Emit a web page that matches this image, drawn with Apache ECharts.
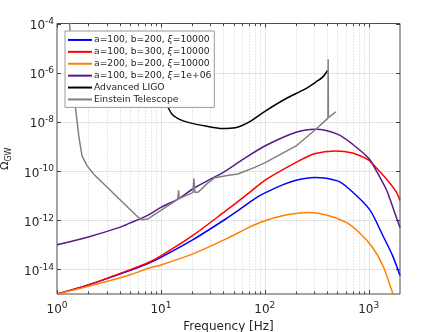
<!DOCTYPE html>
<html><head><meta charset="utf-8">
<script src="https://cdn.jsdelivr.net/npm/echarts@6/dist/echarts.min.js"></script>
<style>html,body{margin:0;padding:0;background:#fff}#c{width:443px;height:332px}</style>
</head><body><div id="c"></div>
<script>
const FONT = 'DejaVu Sans';
const TXT = '#262626';

// axis ticks
const xMajorTicks = [1, 10, 100, 1000];
const xMinorTicks = [2,3,4,5,6,7,8,9,20,30,40,50,60,70,80,90,200,300,400,500,600,700,800,900];
const yMajorTicks = [1e-14, 1e-12, 1e-10, 1e-8, 1e-6, 1e-4];
const xRange = [1, 2000];
const yRange = [1e-15, 1e-4];

const seriesNames = [
  'a=100, b=200, ξ=10000',
  'a=100, b=300, ξ=10000',
  'a=200, b=200, ξ=10000',
  'a=100, b=200, ξ=1e+06',
  'Advanced LIGO',
  'Einstein Telescope'
];

// values: frequency [Hz] and log10(Omega_GW)
const blueFreq = [1, 2, 5, 7.6, 10, 20, 42, 60, 79, 95, 150, 200, 300, 500, 650, 1013, 1370, 1700, 2000];
const blueLogOmega = [-15.0, -14.63, -14.05, -13.75, -13.51, -12.81, -11.95, -11.5, -11.14, -10.94, -10.55, -10.37, -10.26, -10.40, -10.73, -11.55, -12.63, -13.45, -14.25];

const redFreq = [1, 2, 5, 7.6, 10, 20, 42, 68, 100, 200, 300, 480, 700, 1000, 1100, 1500, 1820, 2000];
const redLogOmega = [-15.0, -14.63, -14.02, -13.72, -13.45, -12.64, -11.62, -10.94, -10.38, -9.65, -9.30, -9.18, -9.27, -9.55, -9.72, -10.35, -10.82, -11.2];

const orangeFreq = [1, 2, 5, 7.6, 10, 20, 42, 70.5, 100, 148, 200, 266, 414, 605, 809, 1090, 1370, 1650, 1800];
const orangeLogOmega = [-15.0, -14.69, -14.23, -13.95, -13.82, -13.38, -12.77, -12.29, -12.02, -11.82, -11.73, -11.69, -11.82, -12.09, -12.5, -13.11, -13.85, -14.8, -15.3];

const purpleFreq = [1, 2, 4, 5, 7.6, 10, 15, 20, 30, 40, 60, 100, 200, 310, 500, 700, 1000, 1100, 1470, 1600, 2000];
const purpleLogOmega = [-13.0, -12.68, -12.29, -12.12, -11.78, -11.48, -11.11, -10.74, -10.33, -10.05, -9.56, -8.98, -8.42, -8.30, -8.50, -8.91, -9.48, -9.75, -10.73, -11.14, -12.3];

const ligoFreq = [10, 11.5, 12.8, 14.9, 18.6, 26.9, 39, 52, 71, 102, 159, 248, 310, 360, 402];
const ligoLogOmega = [-6.9, -7.35, -7.69, -7.89, -8.03, -8.17, -8.27, -8.24, -8.0, -7.55, -7.06, -6.65, -6.38, -6.18, -5.91];

const etFreq = [1.3, 1.5, 1.62, 1.74, 1.95, 2.26, 6.1, 6.6, 7.5, 14.5, 14.8, 15.0, 20.3, 20.8, 21.2, 23, 28, 33, 45, 55, 80, 102, 200, 310, 405, 407, 409, 484];
const etLogOmega = [-3.6, -7.36, -8.57, -9.38, -9.79, -10.13, -11.9, -11.98, -11.95, -11.15, -10.78, -11.12, -10.88, -10.3, -10.87, -10.85, -10.5, -10.27, -10.17, -10.12, -9.85, -9.65, -8.98, -8.30, -7.85, -5.45, -7.83, -7.59];

const seriesColors = ['#0000ff', '#ff0000', '#ff8000', '#561a8c', '#000000', '#808080'];
const seriesFreqs = [blueFreq, redFreq, orangeFreq, purpleFreq, ligoFreq, etFreq];
const seriesLogs = [blueLogOmega, redLogOmega, orangeLogOmega, purpleLogOmega, ligoLogOmega, etLogOmega];
const seriesSmooth = [0.3, 0.3, 0.3, 0.3, 0.3, false];

const chart = echarts.init(document.getElementById('c'), null, {renderer: 'canvas'});

function isDecade(v) {
  const l = Math.log10(v);
  return Math.abs(l - Math.round(l)) < 1e-6;
}
const supRich = {
  b: {fontFamily: FONT, fontSize: 12, color: TXT},
  e: {fontFamily: FONT, fontSize: 9, color: TXT, padding: [0, 0, 9, 0]}
};

// grid/tick items: [x, y, kind]  kind 0 = x major, 1 = x minor, 2 = y major
const gridItems = []
  .concat(xMajorTicks.map(v => [v, yRange[0], 0]))
  .concat(xMinorTicks.map(v => [v, yRange[0], 1]))
  .concat(yMajorTicks.map(v => [xRange[0], v, 2]));

function renderGrid(params, api) {
  const cs = params.coordSys;
  const kind = api.value(2);
  const p = api.coord([api.value(0), api.value(1)]);
  const children = [];
  const tickColor = '#404040';
  if (kind === 0 || kind === 1) {
    const x = Math.round(p[0]) + 0.5;
    const major = kind === 0;
    const len = major ? 4 : 2.5;
    if (x > cs.x + 1 && x < cs.x + cs.width - 1) {
      children.push({type: 'line', shape: {x1: x, y1: cs.y, x2: x, y2: cs.y + cs.height},
        style: major ? {stroke: '#e3e3e3', lineWidth: 1} : {stroke: '#cfcfcf', lineWidth: 1, lineDash: [1, 2]}});
    }
    children.push({type: 'line', shape: {x1: x, y1: cs.y + cs.height, x2: x, y2: cs.y + cs.height - len}, style: {stroke: tickColor, lineWidth: 1}});
    children.push({type: 'line', shape: {x1: x, y1: cs.y, x2: x, y2: cs.y + len}, style: {stroke: tickColor, lineWidth: 1}});
  } else {
    const y = Math.round(p[1]) + 0.5;
    if (y > cs.y + 1 && y < cs.y + cs.height - 1) {
      children.push({type: 'line', shape: {x1: cs.x, y1: y, x2: cs.x + cs.width, y2: y},
        style: {stroke: '#e3e3e3', lineWidth: 1}});
    }
    children.push({type: 'line', shape: {x1: cs.x, y1: y, x2: cs.x + 4, y2: y}, style: {stroke: tickColor, lineWidth: 1}});
    children.push({type: 'line', shape: {x1: cs.x + cs.width, y1: y, x2: cs.x + cs.width - 4, y2: y}, style: {stroke: tickColor, lineWidth: 1}});
  }
  return {type: 'group', children: children};
}

const lineSeries = seriesNames.map((name, i) => ({
  name: name,
  type: 'line',
  data: seriesFreqs[i].map((f, j) => [f, Math.pow(10, seriesLogs[i][j])]),
  showSymbol: false,
  symbol: 'none',
  smooth: seriesSmooth[i],
  clip: true,
  color: seriesColors[i],
  lineStyle: {color: seriesColors[i], width: 1.5},
  z: 3,
  silent: true,
  animation: false
}));

chart.setOption({
  animation: false,
  backgroundColor: '#ffffff',
  grid: {left: 57, top: 23.5, right: 43, bottom: 38, show: true, borderColor: '#4d4d4d', borderWidth: 1, backgroundColor: '#ffffff', containLabel: false, outerBoundsMode: 'none'},
  legend: {
    show: true,
    orient: 'vertical',
    left: 65, top: 31,
    data: seriesNames,
    backgroundColor: '#ffffff',
    borderColor: '#9a9a9a',
    borderWidth: 1,
    borderRadius: 0,
    padding: [3, 3, 2, 3],
    itemGap: 0,
    itemWidth: 24,
    itemHeight: 10,
    selectedMode: false,
    icon: 'path://M0,5 L24,5 L24,7 L0,7 Z',
    textStyle: {fontFamily: FONT, fontSize: 9.2, color: TXT, lineHeight: 11.9, padding: [0, 0, 0, -3],
      rich: {i: {fontFamily: FONT, fontSize: 9.2, fontStyle: 'italic', color: TXT}}},
    formatter: n => n.replace('ξ', '{i|ξ}')
  },
  xAxis: {
    type: 'log', logBase: 10, min: xRange[0], max: xRange[1], interval: 1,
    name: 'Frequency [Hz]', nameLocation: 'middle', nameGap: 27,
    nameTextStyle: {fontFamily: FONT, fontSize: 12, color: TXT},
    axisLine: {show: false}, axisTick: {show: false}, splitLine: {show: false}, minorSplitLine: {show: false},
    axisLabel: {
      margin: 7, color: TXT, fontFamily: FONT, fontSize: 12, rich: supRich, hideOverlap: false,
      formatter: v => isDecade(v) ? '{b|10}{e|' + Math.round(Math.log10(v)) + '}' : ''
    }
  },
  yAxis: {
    type: 'log', logBase: 10, min: yRange[0], max: yRange[1], splitNumber: 11, interval: 1,
    name: '{o|Ω}{s|GW}', nameLocation: 'middle', nameGap: 40, nameRotate: 90,
    nameTextStyle: {fontFamily: FONT, color: TXT, rich: {
      o: {fontFamily: FONT, fontSize: 11, color: TXT},
      s: {fontFamily: FONT, fontSize: 8, color: TXT, padding: [7, 0, 0, 0]}
    }},
    axisLine: {show: false}, axisTick: {show: false}, splitLine: {show: false},
    axisLabel: {
      margin: 3, color: TXT, fontFamily: FONT, fontSize: 12, rich: supRich, padding: [5, 0, 0, 0], hideOverlap: false,
      formatter: v => {
        if (!isDecade(v)) return '';
        const e = Math.round(Math.log10(v));
        if (e % 2 !== 0) return '';
        return '{b|10}{e|' + e + '}';
      }
    }
  },
  series: [{
    type: 'custom',
    name: 'grid',
    data: gridItems,
    renderItem: renderGrid,
    silent: true,
    z: 1,
    clip: false,
    animation: false
  }].concat(lineSeries)
});
</script>
</body></html>
